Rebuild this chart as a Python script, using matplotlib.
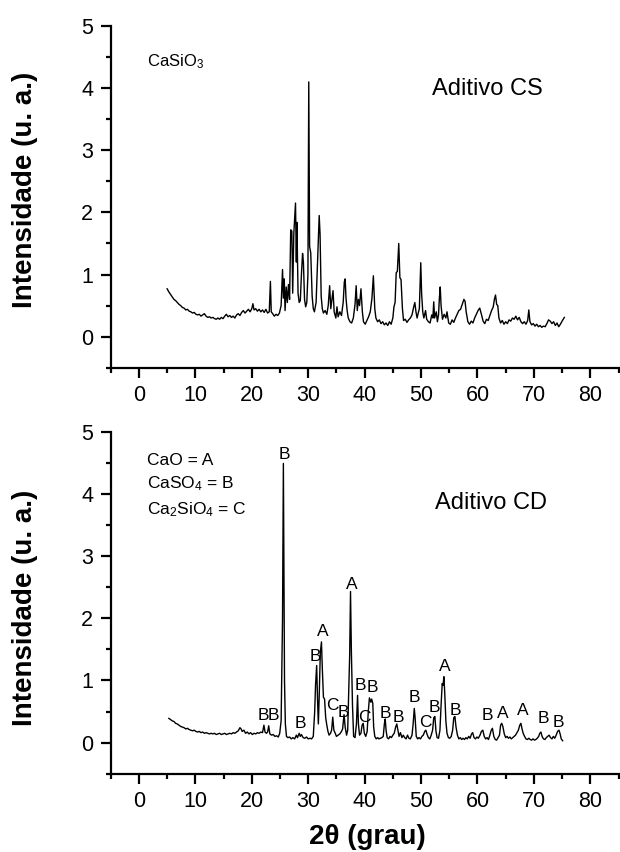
import matplotlib
matplotlib.use("Agg")
import matplotlib.pyplot as plt
from matplotlib.ticker import MultipleLocator

plt.rcParams['font.family'] = ['Liberation Sans', 'DejaVu Sans']
plt.rcParams['mathtext.fontset'] = 'custom'
plt.rcParams['mathtext.rm'] = 'Liberation Sans'
plt.rcParams['mathtext.it'] = 'Liberation Sans:italic'
plt.rcParams['mathtext.bf'] = 'Liberation Sans:bold'

# --- Aditivo CS (CaSiO3) ---
cs_2theta = [
    5.0, 5.3, 5.6, 5.9, 6.2, 6.5, 6.8, 7.1, 7.4, 7.7, 8.0, 8.3, 8.6, 8.9, 9.2, 9.5, 9.8,
    10.1, 10.4, 10.7, 11.0, 11.3, 11.6, 11.9, 12.2, 12.5, 12.8, 13.1, 13.4, 13.7, 14.0,
    14.3, 14.6, 14.9, 15.2, 15.5, 15.8, 16.1, 16.4, 16.7, 17.0, 17.3, 17.6, 17.9, 18.2,
    18.5, 18.8, 19.1, 19.4, 19.7,
    20.0, 20.2, 20.4, 20.7, 21.0, 21.3, 21.6, 21.9, 22.2, 22.5, 22.8, 23.1, 23.3, 23.45,
    23.7, 24.0, 24.3, 24.6, 24.9, 25.2, 25.45, 25.6, 25.75, 25.9, 26.1, 26.3, 26.5, 26.7,
    26.9, 27.1, 27.25, 27.45, 27.75, 27.9, 28.0, 28.2, 28.4, 28.6, 28.8, 29.0, 29.15,
    29.35, 29.55, 29.75, 29.95, 30.1, 30.25, 30.45, 30.7, 30.9, 31.1, 31.4, 31.7, 31.95,
    32.1, 32.3, 32.5, 32.7, 33.0, 33.3, 33.55, 33.8, 34.0, 34.2, 34.4, 34.6, 34.9, 35.1,
    35.3,
    35.6, 35.9, 36.2, 36.4, 36.55, 36.7, 36.9, 37.1, 37.4, 37.7, 38.0, 38.3, 38.5, 38.7,
    38.9, 39.1, 39.35, 39.6, 39.8, 40.1, 40.4, 40.7, 41.0, 41.3, 41.55, 41.8, 42.0, 42.3,
    42.6, 42.9, 43.2, 43.5, 43.8, 44.1, 44.4, 44.7, 45.0, 45.2, 45.4, 45.6, 45.8, 46.05,
    46.25, 46.45, 46.7, 46.9, 47.2, 47.5, 47.8, 48.1, 48.4, 48.7, 48.9, 49.1, 49.3, 49.5,
    49.7, 49.95, 50.1, 50.3, 50.5, 50.8, 51.0, 51.3, 51.6, 51.9, 52.1, 52.25, 52.4, 52.7,
    52.9, 53.1, 53.25, 53.4, 53.55, 53.8, 54.1, 54.4, 54.6, 54.9, 55.2, 55.5, 55.8, 56.1,
    56.4, 56.7, 57.0, 57.3, 57.6, 57.8, 58.0, 58.3, 58.6, 58.9, 59.2, 59.5, 59.8, 60.1,
    60.4, 60.7, 61.0, 61.3, 61.6, 61.9, 62.2, 62.5, 62.8, 63.0, 63.2, 63.4, 63.6, 63.8,
    64.1, 64.4, 64.7, 65.0, 65.3, 65.6, 65.9, 66.2, 66.5, 66.8, 67.1, 67.4, 67.7, 68.0,
    68.3, 68.6, 68.9, 69.1, 69.3, 69.6, 69.9, 70.2, 70.5, 70.8, 71.1, 71.4, 71.7, 72.0,
    72.3, 72.6, 72.9, 73.2, 73.5, 73.8, 74.1, 74.4, 74.7, 75.0, 75.4,
]
cs_int = [
    0.77, 0.72, 0.68, 0.64, 0.60, 0.58, 0.55, 0.52, 0.50, 0.47, 0.46, 0.43, 0.44, 0.41, 0.40, 0.38, 0.39,
    0.36, 0.35, 0.36, 0.33, 0.35, 0.37, 0.33, 0.31, 0.32, 0.30, 0.31, 0.29, 0.28, 0.30,
    0.28, 0.31, 0.29, 0.33, 0.36, 0.32, 0.34, 0.31, 0.33, 0.30, 0.35, 0.37, 0.34, 0.39,
    0.42, 0.38, 0.41, 0.44, 0.40,
    0.45, 0.53, 0.43, 0.45, 0.41, 0.44, 0.40, 0.43, 0.39, 0.44, 0.38, 0.40, 0.89, 0.40,
    0.37, 0.33, 0.36, 0.34, 0.38, 0.50, 1.08, 0.62, 0.93, 0.42, 0.80, 0.55, 0.84, 0.60,
    1.72, 1.70, 0.70, 1.66, 2.15, 1.20, 1.84, 0.70, 0.55, 0.58, 1.00, 1.34, 1.20,
    0.60, 0.48, 0.55, 1.00, 4.10, 1.45, 1.35, 0.65, 0.45, 0.40, 0.55, 1.30, 1.95,
    1.65, 0.65, 0.45, 0.38, 0.42, 0.36, 0.50, 0.82, 0.45, 0.60, 0.74, 0.40, 0.30, 0.48,
    0.32,
    0.40, 0.34, 0.55, 0.88, 0.93, 0.62, 0.42, 0.30, 0.24, 0.22, 0.30, 0.52, 0.82, 0.42,
    0.60, 0.50, 0.77, 0.40, 0.24, 0.20, 0.26, 0.32, 0.40, 0.62, 0.98, 0.45, 0.30, 0.24,
    0.27, 0.21, 0.24, 0.19, 0.22, 0.18, 0.24, 0.20, 0.30, 0.48, 0.55, 1.03, 1.05, 1.50,
    0.95, 0.92, 0.45, 0.26, 0.28, 0.23, 0.27, 0.30, 0.35, 0.48, 0.55, 0.40, 0.30, 0.38,
    0.45, 1.19, 0.70, 0.40, 0.30, 0.42, 0.28, 0.24, 0.22, 0.35, 0.30, 0.56, 0.30, 0.40,
    0.24, 0.35, 0.62, 0.80, 0.50, 0.28, 0.36, 0.30, 0.40, 0.22, 0.20, 0.27, 0.23, 0.30,
    0.36, 0.42, 0.44, 0.52, 0.60, 0.57, 0.40, 0.24, 0.20, 0.25, 0.22, 0.30, 0.36, 0.42,
    0.46, 0.36, 0.25, 0.21, 0.28, 0.26, 0.34, 0.42, 0.48, 0.60, 0.67, 0.52, 0.50, 0.30,
    0.22, 0.26, 0.20, 0.24, 0.21, 0.27, 0.25, 0.30, 0.28, 0.33, 0.27, 0.31, 0.24, 0.21,
    0.24, 0.20, 0.26, 0.43, 0.24, 0.19, 0.21, 0.17, 0.20, 0.16, 0.18, 0.15, 0.17, 0.16,
    0.21, 0.27, 0.25, 0.21, 0.24, 0.18, 0.22, 0.16, 0.20, 0.25, 0.31,
]

# --- Aditivo CD ---
cd_2theta = [
    5.3, 5.6, 5.9, 6.2, 6.5, 6.8, 7.1, 7.4, 7.7, 8.0, 8.3, 8.6, 8.9, 9.2, 9.5, 9.8, 10.1,
    10.4, 10.7, 11.0, 11.3, 11.6, 11.9, 12.2, 12.5, 12.8, 13.1, 13.4, 13.7, 14.0, 14.3,
    14.6, 14.9, 15.2, 15.5, 15.8, 16.1, 16.4, 16.7, 17.0, 17.3, 17.6, 17.9, 18.1, 18.3,
    18.6, 18.9, 19.2, 19.5, 19.8, 20.1, 20.4, 20.7, 21.0, 21.3, 21.6, 21.9, 22.15, 22.35,
    22.6, 22.8, 23.0, 23.2, 23.5, 23.8, 24.1, 24.4, 24.7, 24.95, 25.2, 25.45, 25.6, 25.8,
    25.95, 26.15, 26.4, 26.7, 27.0, 27.3, 27.6, 27.9, 28.1, 28.4, 28.6, 28.8, 29.1, 29.4,
    29.7, 30.0, 30.3, 30.6, 30.9, 31.15, 31.3, 31.5, 31.65, 31.8, 31.95, 32.15, 32.35,
    32.5, 32.7, 32.9, 33.1, 33.3, 33.5, 33.7, 33.95, 34.15, 34.35, 34.55, 34.8, 35.0,
    35.3, 35.6, 35.9, 36.1, 36.35, 36.55, 36.8, 37.0, 37.2, 37.35, 37.5, 37.65, 37.85,
    38.05, 38.3, 38.55, 38.75, 38.9, 39.1, 39.35, 39.55, 39.75, 39.95, 40.2, 40.45, 40.65,
    40.85, 40.95, 41.1, 41.25, 41.45, 41.6, 41.8, 42.05, 42.3, 42.55, 42.8, 43.05, 43.3,
    43.5, 43.65, 43.8, 44.0, 44.25, 44.5, 44.75, 45.0, 45.25, 45.5, 45.7, 45.9, 46.1,
    46.35, 46.6, 46.85, 47.1, 47.35, 47.6, 47.85, 48.1, 48.4, 48.6, 48.8, 48.95, 49.15,
    49.4, 49.65, 49.9, 50.15, 50.4, 50.65, 50.85, 51.05, 51.3, 51.55, 51.8, 52.05, 52.25,
    52.45, 52.65, 52.85, 53.1, 53.35, 53.55, 53.75, 53.9, 54.05, 54.2, 54.4, 54.6, 54.85,
    55.1, 55.35, 55.6, 55.8, 56.0, 56.2, 56.45, 56.7, 56.95, 57.2, 57.45, 57.7, 57.95,
    58.2, 58.45, 58.7, 58.95, 59.15, 59.4, 59.65, 59.9, 60.15, 60.45, 60.7, 60.95, 61.2,
    61.45, 61.7, 61.95, 62.2, 62.45, 62.65, 62.9, 63.15, 63.4, 63.65, 63.9, 64.1, 64.3,
    64.5, 64.75, 65.0, 65.25, 65.5, 65.75, 66.0, 66.25, 66.5, 66.75, 67.0, 67.25, 67.5,
    67.7, 67.9, 68.1, 68.35, 68.6, 68.85, 69.1, 69.35, 69.6, 69.85, 70.1, 70.35, 70.6,
    70.85, 71.05, 71.25, 71.45, 71.7, 71.95, 72.2, 72.45, 72.7, 72.95, 73.2, 73.45, 73.7,
    73.95, 74.2, 74.45, 74.65, 74.85, 75.1,
]
cd_int = [
    0.39, 0.37, 0.35, 0.34, 0.31, 0.30, 0.28, 0.26, 0.25, 0.24, 0.22, 0.23, 0.21, 0.20, 0.19, 0.20, 0.18,
    0.17, 0.18, 0.16, 0.17, 0.15, 0.16, 0.15, 0.14, 0.15, 0.14, 0.15, 0.13, 0.14, 0.15,
    0.13, 0.14, 0.15, 0.13, 0.14, 0.15, 0.14, 0.16, 0.15, 0.17, 0.19, 0.24, 0.22, 0.18,
    0.20, 0.15, 0.17, 0.14, 0.16, 0.13, 0.15, 0.14, 0.16, 0.15, 0.17, 0.16, 0.28, 0.17,
    0.15, 0.17, 0.27, 0.14, 0.12, 0.13, 0.10, 0.11, 0.09, 0.15, 0.35, 2.00, 4.49, 1.00,
    0.30, 0.10, 0.08, 0.09, 0.06, 0.08, 0.06, 0.12, 0.08, 0.15, 0.10, 0.13, 0.08, 0.07,
    0.09, 0.06, 0.07, 0.06, 0.10, 0.50, 0.92, 1.24, 0.70, 0.30, 0.75, 1.45, 1.62,
    1.20, 0.73, 0.70, 0.40, 0.28, 0.18, 0.12, 0.15, 0.20, 0.41, 0.20, 0.15, 0.10,
    0.12, 0.14, 0.18, 0.22, 0.45, 0.25, 0.12, 0.20, 0.90, 1.40, 2.43, 1.48, 0.60,
    0.10, 0.08, 0.30, 0.76, 0.30, 0.12, 0.15, 0.28, 0.31, 0.15, 0.10, 0.18, 0.50,
    0.72, 0.69, 0.65, 0.70, 0.63, 0.25, 0.10, 0.06, 0.08, 0.06, 0.07, 0.08, 0.10,
    0.30, 0.38, 0.20, 0.08, 0.06, 0.10, 0.08, 0.12, 0.15, 0.25, 0.30, 0.20, 0.10,
    0.16, 0.08, 0.12, 0.08, 0.06, 0.12, 0.07, 0.06, 0.12, 0.30, 0.55, 0.40, 0.10,
    0.06, 0.08, 0.06, 0.10, 0.12, 0.18, 0.20, 0.14, 0.08, 0.06, 0.12, 0.20, 0.40,
    0.42, 0.18, 0.08, 0.07, 0.20, 0.60, 0.95, 0.92, 1.06, 0.80, 0.35, 0.15, 0.08,
    0.07, 0.10, 0.20, 0.40, 0.42, 0.25, 0.12, 0.06, 0.08, 0.05, 0.07, 0.05, 0.08,
    0.06, 0.10, 0.07, 0.14, 0.16, 0.08, 0.06, 0.09, 0.07, 0.12, 0.18, 0.20, 0.10,
    0.06, 0.08, 0.05, 0.12, 0.20, 0.23, 0.10, 0.05, 0.04, 0.08, 0.12, 0.28, 0.31,
    0.26, 0.14, 0.08, 0.10, 0.07, 0.09, 0.06, 0.08, 0.10, 0.12, 0.16, 0.20, 0.28,
    0.31, 0.22, 0.15, 0.10, 0.06, 0.05, 0.07, 0.05, 0.04, 0.06, 0.04, 0.05, 0.07,
    0.10, 0.15, 0.17, 0.10, 0.06, 0.05, 0.08, 0.10, 0.12, 0.08, 0.06, 0.10, 0.07,
    0.12, 0.18, 0.20, 0.14, 0.06, 0.03,
]

# phase letters above the CD peaks
peak_letters = ['B', 'B', 'B', 'B', 'B', 'A', 'C', 'B', 'A', 'B', 'C', 'B',
                'B', 'B', 'B', 'C', 'B', 'A', 'B', 'B', 'A', 'A', 'B', 'B']
peak_x = [25.85, 22.0, 23.76, 28.67, 31.33, 32.6, 34.3, 36.3, 37.66, 39.25, 40.0, 41.4,
          43.7, 46.05, 48.9, 50.8, 52.4, 54.2, 56.15, 61.7, 64.5, 68.0, 71.75, 74.4]
peak_y = [4.64, 0.44, 0.44, 0.31, 1.38, 1.78, 0.60, 0.49, 2.55, 0.92, 0.41, 0.88,
          0.47, 0.41, 0.73, 0.32, 0.57, 1.23, 0.52, 0.44, 0.47, 0.52, 0.38, 0.33]

phase_key = ['CaO = A', r'CaSO$_4$ = B', r'Ca$_2$SiO$_4$ = C']
phase_key_y = [4.53, 4.16, 3.75]


fig = plt.figure(figsize=(6.2, 8.52), dpi=100)
ax1 = fig.add_axes([0.1786, 0.5684, 0.819, 0.4011])
ax2 = fig.add_axes([0.1786, 0.0919, 0.819, 0.4014])

for ax in (ax1, ax2):
    ax.set_xlim(-5, 85)
    ax.set_ylim(-0.5, 5)
    ax.xaxis.set_major_locator(MultipleLocator(10))
    ax.xaxis.set_minor_locator(MultipleLocator(5))
    ax.yaxis.set_major_locator(MultipleLocator(1))
    ax.yaxis.set_minor_locator(MultipleLocator(0.5))
    ax.spines['top'].set_visible(False)
    ax.spines['right'].set_visible(False)
    ax.spines['left'].set_linewidth(1.6)
    ax.spines['bottom'].set_linewidth(1.6)
    ax.tick_params(which='major', direction='out', length=7, width=1.6,
                   labelsize=15.5, pad=5.5)
    ax.tick_params(which='minor', direction='out', length=3.3, width=1.6)
    ax.set_ylabel('Intensidade (u. a.)', fontsize=20, fontweight='bold')

ax1.yaxis.set_label_coords(-0.144, 0.52)
ax2.yaxis.set_label_coords(-0.144, 0.485)

ax1.plot(cs_2theta, cs_int, color='black', linewidth=1.0)
ax1.text(1.4, 4.42, r'CaSiO$_3$', fontsize=12, va='center', ha='left')
ax1.text(52, 3.99, 'Aditivo CS', fontsize=17, va='center', ha='left')

ax2.plot(cd_2theta, cd_int, color='black', linewidth=1.0)
for lab, yk in zip(phase_key, phase_key_y):
    ax2.text(1.37, yk, lab, fontsize=12.5, va='center', ha='left')
ax2.text(52.5, 3.85, 'Aditivo CD', fontsize=17, va='center', ha='left')
for lab, px, py in zip(peak_letters, peak_x, peak_y):
    ax2.text(px, py, lab, fontsize=12.5, va='center', ha='center')

ax2.set_xlabel('2θ (grau)', fontsize=20, fontweight='bold')
ax2.xaxis.set_label_coords(0.506, -0.148)

fig.savefig('out.png', dpi=100)
